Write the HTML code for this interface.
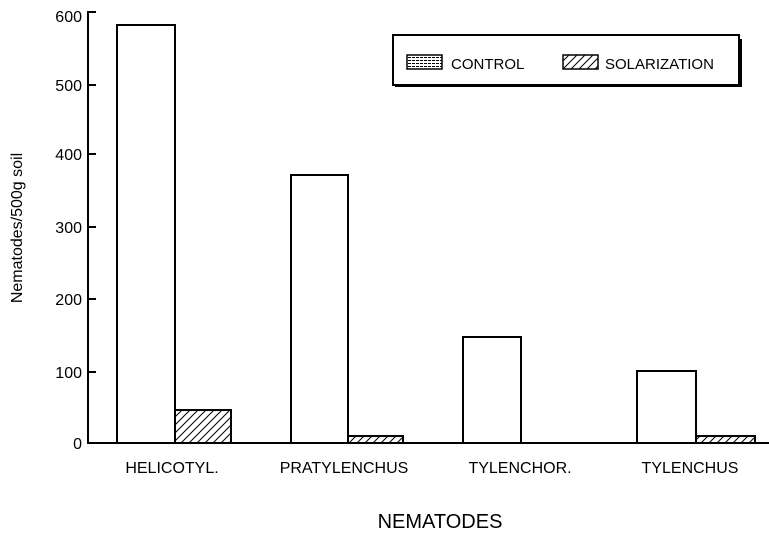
<!DOCTYPE html><html><head><style>body{margin:0;background:#fff}</style></head><body>
<svg width="769" height="536" xmlns="http://www.w3.org/2000/svg" font-family="Liberation Sans, sans-serif">
<defs><pattern id="h" width="8" height="8" patternUnits="userSpaceOnUse"><path d="M0,8 L8,0 M-2,2 L2,-2 M6,10 L10,6" stroke="#000" stroke-width="1"/></pattern>
<pattern id="c" width="4" height="3" patternUnits="userSpaceOnUse"><rect width="4" height="3" fill="#fff"/><rect width="3" height="1" fill="#000"/></pattern></defs>
<g stroke="#000" stroke-width="2" fill="none">
<path d="M96,12 H88 V443 H769"/>
<path d="M88,85 H96 M88,154 H96 M88,227 H96 M88,299 H96 M88,372 H96"/>
</g>
<g font-size="16" text-anchor="end"><text x="82" y="22">600</text><text x="82" y="91">500</text><text x="82" y="160">400</text><text x="82" y="233">300</text><text x="82" y="305">200</text><text x="82" y="378">100</text><text x="82" y="449">0</text></g>
<text transform="translate(22,228) rotate(-90)" font-size="16" text-anchor="middle">Nematodes/500g soil</text>
<g stroke="#000" stroke-width="2" fill="#fff">
<rect x="117" y="25" width="58" height="418"/>
<rect x="175" y="410" width="56" height="33" fill="url(#h)"/>
<rect x="291" y="175" width="57" height="268"/>
<rect x="348" y="436" width="55" height="7" fill="url(#h)"/>
<rect x="463" y="337" width="58" height="106"/>
<rect x="637" y="371" width="59" height="72"/>
<rect x="696" y="436" width="59" height="7" fill="url(#h)"/>
</g>
<g font-size="16" text-anchor="middle"><text x="172" y="473">HELICOTYL.</text><text x="344" y="473">PRATYLENCHUS</text><text x="520" y="473">TYLENCHOR.</text><text x="690" y="473">TYLENCHUS</text></g>
<text x="440" y="528" font-size="20" text-anchor="middle">NEMATODES</text>
<rect x="395" y="39" width="347" height="48" fill="#000"/>
<rect x="393" y="35" width="346" height="50" fill="#fff" stroke="#000" stroke-width="2"/>
<rect x="407" y="55" width="35" height="14" fill="url(#c)" stroke="#000" stroke-width="1.5"/>
<text x="451" y="69" font-size="15">CONTROL</text>
<rect x="563" y="55" width="35" height="14" fill="url(#h)" stroke="#000" stroke-width="1.5"/>
<text x="605" y="69" font-size="15">SOLARIZATION</text>
</svg></body></html>
